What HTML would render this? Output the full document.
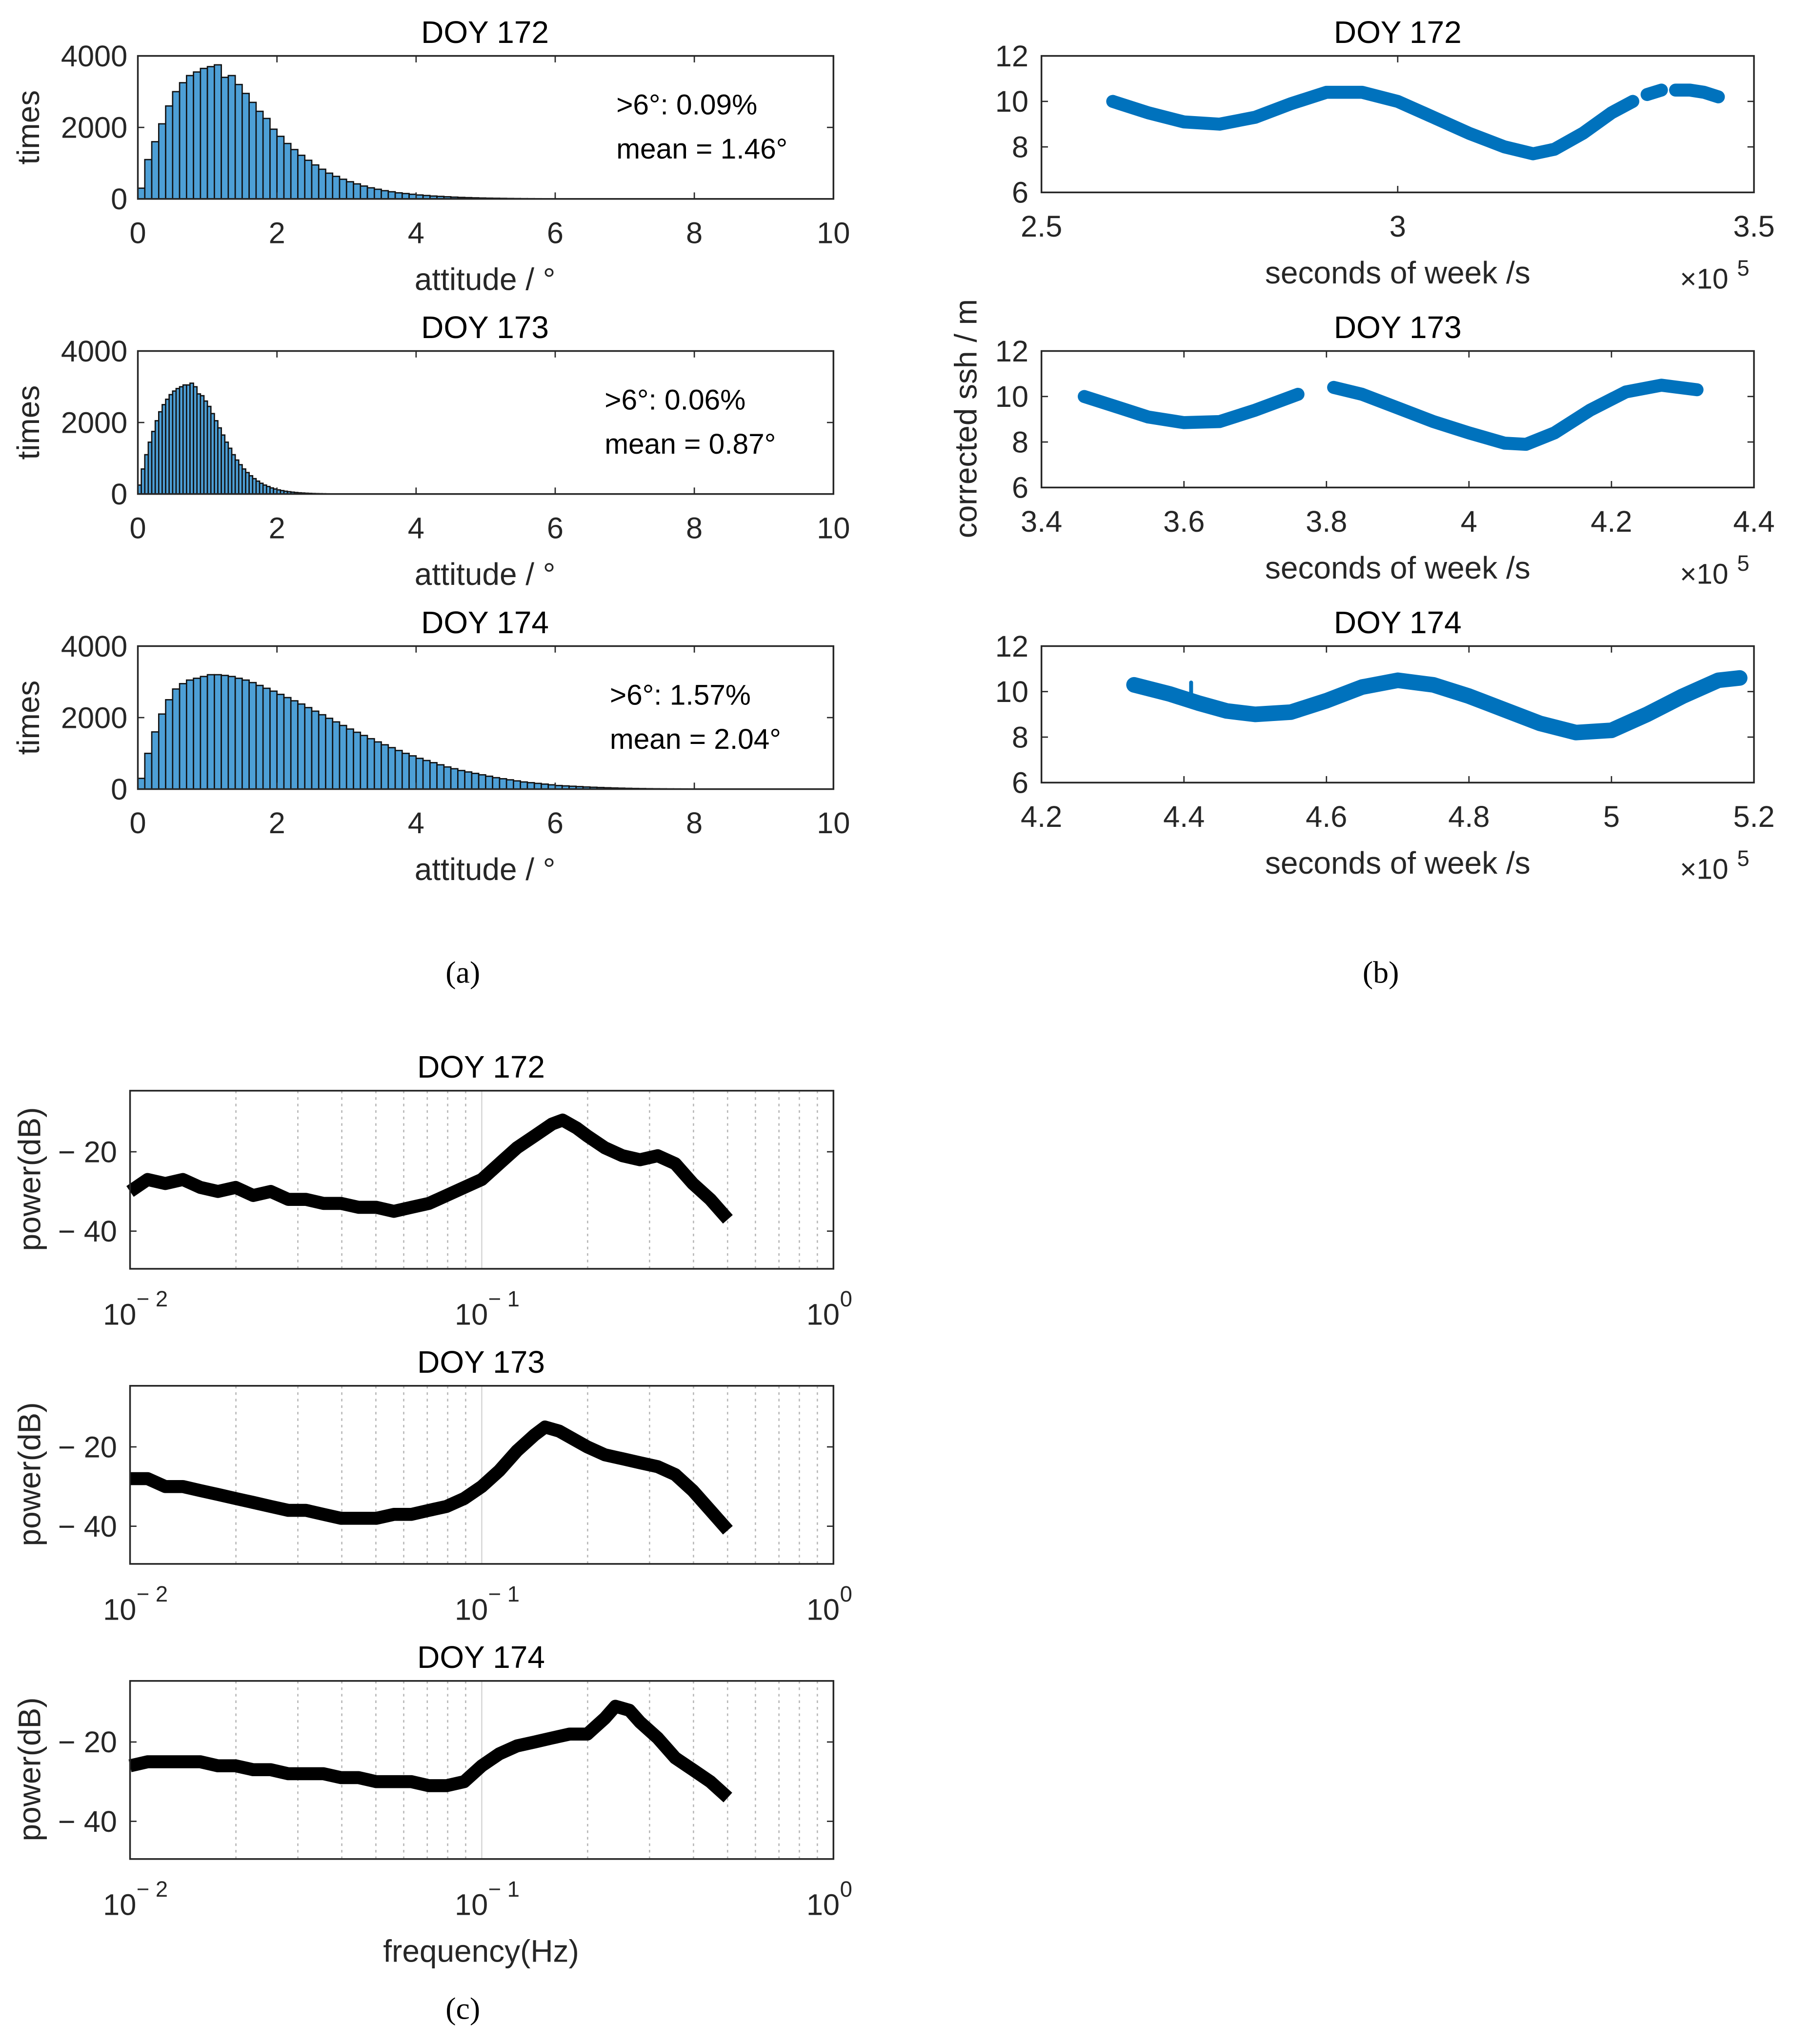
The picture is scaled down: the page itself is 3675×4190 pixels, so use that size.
<!DOCTYPE html>
<html><head><meta charset="utf-8"><style>
html,body{margin:0;padding:0;background:#fff;}
svg{display:block;font-family:"Liberation Sans",Arial,sans-serif;}
</style></head><body>
<svg id="fig" width="3675" height="4190" viewBox="0 0 1379 1572.3" xmlns="http://www.w3.org/2000/svg"></svg>
<script>
// ---------- data ----------
const histBinWidths = [0.1, 0.05, 0.1];
const hist172 = [300,1100,1600,2100,2600,3000,3250,3450,3550,3650,3700,3750,3400,3450,3200,2950,2700,2450,2250,1950,1750,1550,1380,1220,1080,950,830,720,630,550,480,420,360,310,270,230,200,170,150,130,110,95,80,70,60,50,42,36,30,25,21,18,15,12,10,8,7,6,5,4,3,2,2,1,1];
const hist173 = [250,700,1100,1450,1750,2050,2300,2500,2650,2780,2880,2950,3000,3050,3050,3100,3000,2800,2750,2600,2450,2250,2050,1850,1650,1450,1280,1100,950,820,700,600,510,430,360,300,250,210,170,140,115,95,78,64,52,42,34,28,22,18,14,11,9,7,5,4,3,2,2,1,1];
const hist174 = [300,1000,1600,2100,2500,2800,2950,3050,3100,3150,3200,3200,3180,3150,3100,3050,2980,2900,2820,2740,2650,2560,2470,2380,2280,2180,2080,1980,1880,1780,1680,1590,1500,1410,1320,1240,1160,1080,1000,930,860,800,740,680,620,570,520,480,440,400,360,320,290,260,230,200,180,160,140,120,100,90,80,70,60,52,45,38,32,27,22,18,15,12,10,8,6,5,4,3,2];
const histTicksX = [0,2,4,6,8,10];
const histTicksY = [0,2000,4000];
const histNotes = [[">6°: 0.09%","mean = 1.46°"],[">6°:   0.06%","mean = 0.87°"],[">6°:   1.57%","mean = 2.04°"]];

const sshX172 = [[2.6,2.65,2.7,2.75,2.8,2.85,2.9,2.95,3.0,3.05,3.1,3.15,3.19,3.22,3.26,3.3,3.33],[3.35,3.37],[3.39,3.41,3.43,3.45]];
const sshY172 = [[10.0,9.5,9.1,9.0,9.3,9.9,10.4,10.4,10.0,9.3,8.6,8.0,7.7,7.9,8.6,9.5,10.0],[10.3,10.5],[10.5,10.5,10.4,10.2]];
const sshX173 = [[3.46,3.5,3.55,3.6,3.65,3.7,3.76],[3.81,3.85,3.9,3.95,4.0,4.05,4.08,4.12,4.17,4.22,4.27,4.32]];
const sshY173 = [[10.0,9.6,9.1,8.85,8.9,9.4,10.1],[10.4,10.1,9.5,8.9,8.4,7.95,7.9,8.4,9.4,10.2,10.5,10.3]];
const sshX174 = [[4.33,4.38,4.42,4.46,4.5,4.55,4.6,4.65,4.7,4.75,4.8,4.85,4.9,4.95,5.0,5.05,5.1,5.15,5.18],[4.41,4.41]];
const sshY174 = [[10.3,9.9,9.5,9.15,9.0,9.1,9.6,10.2,10.5,10.3,9.8,9.2,8.6,8.2,8.3,9.0,9.8,10.5,10.6],[9.6,10.4]];
const sshRanges = [[2.5,3.5],[3.4,4.4],[4.2,5.2]];
const sshTicks = [[2.5,3,3.5],[3.4,3.6,3.8,4,4.2,4.4],[4.2,4.4,4.6,4.8,5,5.2]];
const sshTicksY = [6,8,10,12];

const psdLogF172 = [-2,-1.95,-1.9,-1.85,-1.8,-1.75,-1.7,-1.65,-1.6,-1.55,-1.5,-1.45,-1.4,-1.35,-1.3,-1.25,-1.2,-1.15,-1.1,-1.05,-1.0,-0.95,-0.9,-0.85,-0.8,-0.77,-0.73,-0.7,-0.65,-0.6,-0.55,-0.5,-0.45,-0.4,-0.35,-0.3];
const psdDb172 = [-30,-27,-28,-27,-29,-30,-29,-31,-30,-32,-32,-33,-33,-34,-34,-35,-34,-33,-31,-29,-27,-23,-19,-16,-13,-12,-14,-16,-19,-21,-22,-21,-23,-28,-32,-37];
const psdLogF173 = [-2,-1.95,-1.9,-1.85,-1.8,-1.75,-1.7,-1.65,-1.6,-1.55,-1.5,-1.45,-1.4,-1.35,-1.3,-1.25,-1.2,-1.15,-1.1,-1.05,-1.0,-0.95,-0.9,-0.85,-0.82,-0.78,-0.7,-0.65,-0.6,-0.55,-0.5,-0.45,-0.4,-0.35,-0.3];
const psdDb173 = [-28,-28,-30,-30,-31,-32,-33,-34,-35,-36,-36,-37,-38,-38,-38,-37,-37,-36,-35,-33,-30,-26,-21,-17,-15,-16,-20,-22,-23,-24,-25,-27,-31,-36,-41];
const psdLogF174 = [-2,-1.95,-1.9,-1.85,-1.8,-1.75,-1.7,-1.65,-1.6,-1.55,-1.5,-1.45,-1.4,-1.35,-1.3,-1.25,-1.2,-1.15,-1.1,-1.05,-1.0,-0.95,-0.9,-0.85,-0.8,-0.75,-0.7,-0.65,-0.62,-0.58,-0.55,-0.5,-0.45,-0.4,-0.35,-0.3];
const psdDb174 = [-26,-25,-25,-25,-25,-26,-26,-27,-27,-28,-28,-28,-29,-29,-30,-30,-30,-31,-31,-30,-26,-23,-21,-20,-19,-18,-18,-14,-11,-12,-15,-19,-24,-27,-30,-34];
const psdTicksY = [-20,-40];

// ---------- helpers ----------
const NS = "http://www.w3.org/2000/svg";
const fig = document.getElementById('fig');
function mk(tag, attrs, parent){ const e=document.createElementNS(NS,tag); for(const k in attrs) e.setAttribute(k,attrs[k]); (parent||fig).appendChild(e); return e; }
function txt(s,x,y,size,anchor,parent,extra){ const t=mk('text',Object.assign({x:x,y:y,'font-size':size,'text-anchor':anchor||'middle',fill:'#262626'},extra||{}),parent); t.textContent=s; return t; }
function lin(d0,d1,r0,r1){ return v=>r0+(v-d0)/(d1-d0)*(r1-r0); }

// ---------- (a) histograms ----------
const histData=[hist172,hist173,hist174];
const doys=['DOY 172','DOY 173','DOY 174'];
[43,270,497].forEach((top,i)=>{
  const g=mk('g',{});
  
  
  const L=106,R=641,B=top+110;
  const xs=lin(0,10,L,R), ys=lin(0,4000,B,top);
  const bw=histBinWidths[i];
  histData[i].forEach((v,k)=>{
    const r=mk('rect',{x:xs(k*bw),y:ys(v),width:xs(bw)-xs(0),height:B-ys(v),fill:'#4d9fd6',stroke:'#111','stroke-width':1},g);
    
    
  });
  mk('rect',{x:L,y:top,width:R-L,height:B-top,fill:'none',stroke:'#262626','stroke-width':1.3},g);
  histTicksX.forEach(t=>{ mk('line',{x1:xs(t),x2:xs(t),y1:B,y2:B-5,stroke:'#262626'},g); mk('line',{x1:xs(t),x2:xs(t),y1:top,y2:top+5,stroke:'#262626'},g); txt(String(t),xs(t),B+34,23,'middle',g); });
  histTicksY.forEach(t=>{ mk('line',{x1:L,x2:L+5,y1:ys(t),y2:ys(t),stroke:'#262626'},g); mk('line',{x1:R,x2:R-5,y1:ys(t),y2:ys(t),stroke:'#262626'},g); txt(String(t),L-8,ys(t)+8,23,'end',g); });
  txt(doys[i],373,top-10,24,'middle',g,{fill:'#000'});
  txt('attitude / °',373,B+70,24,'middle',g);
  txt('times',0,0,24,'middle',g,{transform:`translate(30,${top+55}) rotate(-90)`});
  const nx=[474,465,469][i];
  txt(histNotes[i][0],nx,top+45,22,'start',g,{fill:'#000'});
  txt(histNotes[i][1],nx,top+79,22,'start',g,{fill:'#000'});
});
txt('(a)',356,756,24,'middle',null,{'font-family':'"Liberation Serif",serif',fill:'#000'});

// ---------- (b) ssh ----------
const sshX=[sshX172,sshX173,sshX174], sshY=[sshY172,sshY173,sshY174];
[43,270,497].forEach((top,i)=>{
  const g=mk('g',{});
  
  
  const L=801,R=1349,B=top+105;
  const xs=lin(sshRanges[i][0],sshRanges[i][1],L,R), ys=lin(6,12,B,top);
  sshX[i].forEach((seg,s)=>{
    const pts=seg.map((x,k)=>xs(x).toFixed(1)+','+ys(sshY[i][s][k]).toFixed(1)).join(' ');
    const p=mk('polyline',{points:pts,fill:'none',stroke:'#0072BD','stroke-width':(i===2&&s===1)?3:(i===2?12:10),'stroke-linecap':'round','stroke-linejoin':'round'},g);
    
    
  });
  mk('rect',{x:L,y:top,width:R-L,height:B-top,fill:'none',stroke:'#262626','stroke-width':1.3},g);
  sshTicks[i].forEach(t=>{ mk('line',{x1:xs(t),x2:xs(t),y1:B,y2:B-5,stroke:'#262626'},g); mk('line',{x1:xs(t),x2:xs(t),y1:top,y2:top+5,stroke:'#262626'},g); txt(String(t),xs(t),B+34,23,'middle',g); });
  sshTicksY.forEach(t=>{ mk('line',{x1:L,x2:L+5,y1:ys(t),y2:ys(t),stroke:'#262626'},g); mk('line',{x1:R,x2:R-5,y1:ys(t),y2:ys(t),stroke:'#262626'},g); txt(String(t),L-10,ys(t)+8,23,'end',g); });
  txt(doys[i],1075,top-10,24,'middle',g,{fill:'#000'});
  txt('seconds of week /s',1075,B+70,24,'middle',g);
  txt('×10',1292,B+74,22,'start',g);
  txt('5',1336,B+64,17,'start',g);
});
txt('corrected ssh / m',0,0,24,'middle',null,{transform:'translate(751,322) rotate(-90)'});
txt('(b)',1062,756,24,'middle',null,{'font-family':'"Liberation Serif",serif',fill:'#000'});

// ---------- (c) PSD ----------
const psdF=[psdLogF172,psdLogF173,psdLogF174], psdD=[psdDb172,psdDb173,psdDb174];
[839,1066,1293].forEach((top,i)=>{
  const g=mk('g',{});
  
  
  const L=100,R=641,B=top+137;
  const xs=lin(-2,0,L,R), ys=lin(-49.5,-4.6,B,top);
  for(let d=-2; d<0; d++) for(let m=2;m<=9;m++){ const x=xs(d+Math.log10(m)); mk('line',{x1:x,x2:x,y1:top,y2:B,stroke:'#b8b8b8','stroke-width':1,'stroke-dasharray':'2,3'},g); }
  mk('line',{x1:xs(-1),x2:xs(-1),y1:top,y2:B,stroke:'#d8d8d8','stroke-width':1},g);
  const pts=psdF[i].map((f,k)=>xs(f).toFixed(1)+','+ys(psdD[i][k]).toFixed(1)).join(' ');
  const p=mk('polyline',{points:pts,fill:'none',stroke:'#000','stroke-width':10,'stroke-linejoin':'round'},g);
  
  
  mk('rect',{x:L,y:top,width:R-L,height:B-top,fill:'none',stroke:'#262626','stroke-width':1.3},g);
  psdTicksY.forEach(t=>{ mk('line',{x1:L,x2:L+5,y1:ys(t),y2:ys(t),stroke:'#262626'},g); mk('line',{x1:R,x2:R-5,y1:ys(t),y2:ys(t),stroke:'#262626'},g); txt('− '+(-t),L-10,ys(t)+8,23,'end',g); });
  [-2,-1,0].forEach(e=>{ const x=xs(e); txt('10',x-8,B+43,23,'middle',g); txt(e===0?'0':'− '+(-e),x+5,B+29,17,'start',g); });
  txt(doys[i],370,top-10,24,'middle',g,{fill:'#000'});
  txt('power(dB)',0,0,24,'middle',g,{transform:`translate(31,${top+68}) rotate(-90)`});
});
txt('frequency(Hz)',370,1509,24,'middle');
txt('(c)',356,1553,24,'middle',null,{'font-family':'"Liberation Serif",serif',fill:'#000'});
</script>
</body></html>
